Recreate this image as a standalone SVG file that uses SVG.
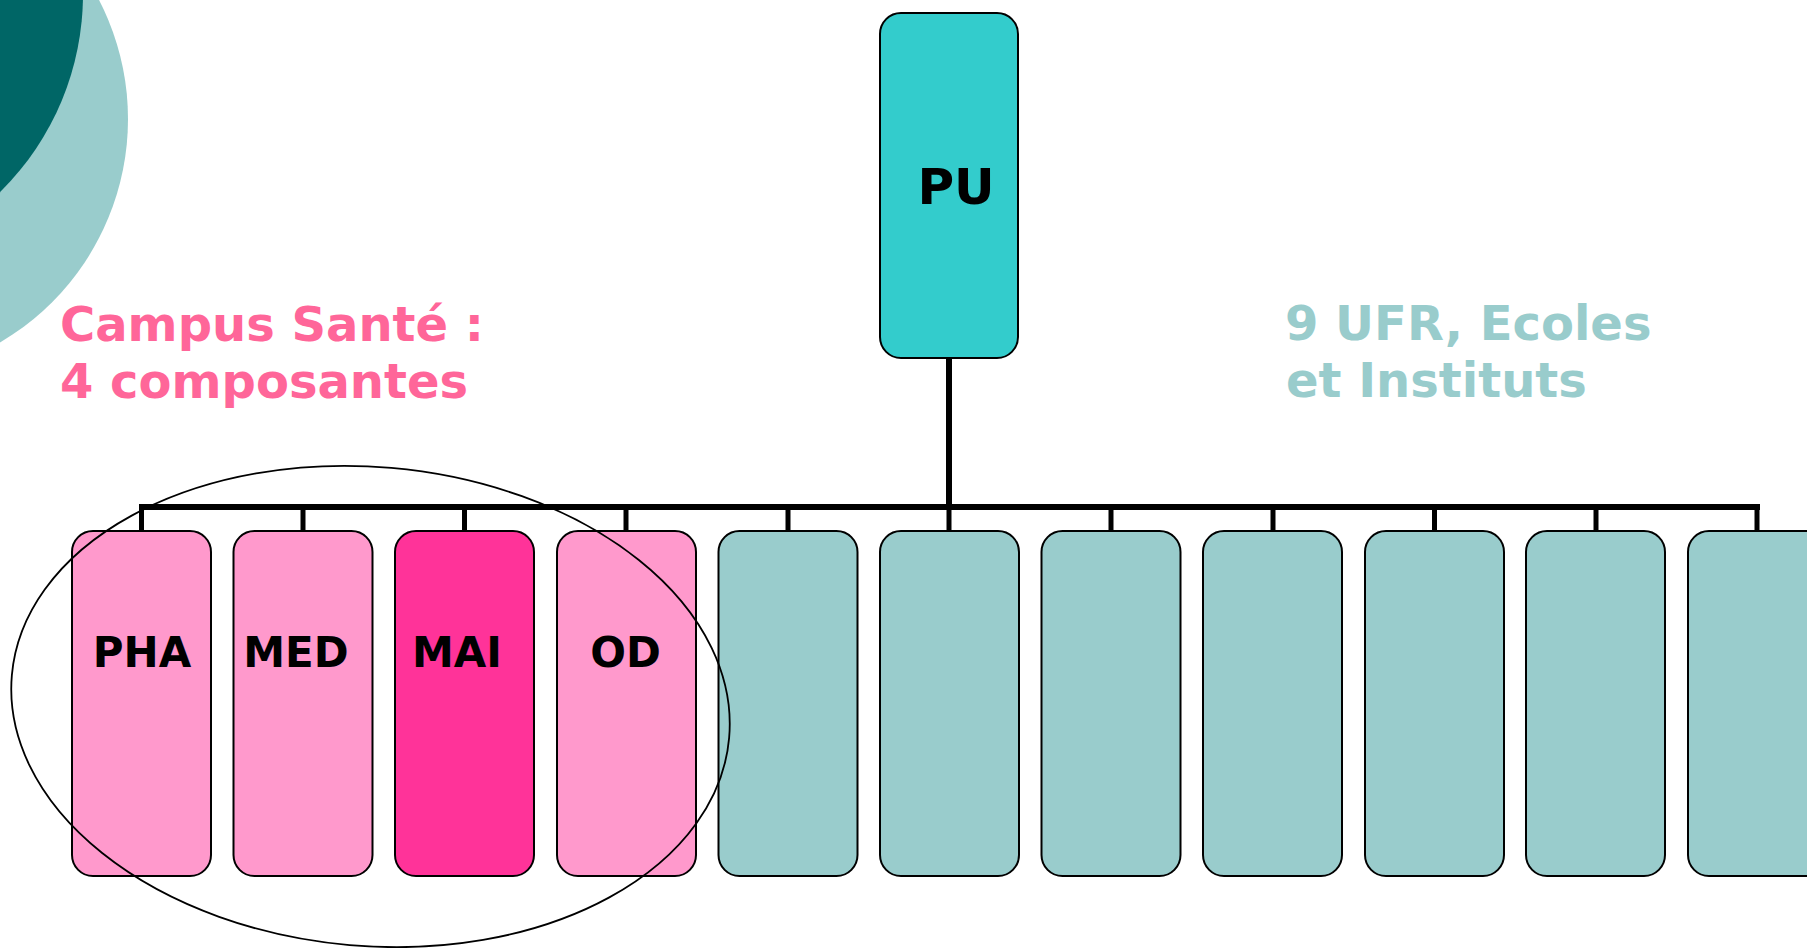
<svg xmlns="http://www.w3.org/2000/svg" width="1807" height="948" viewBox="0 0 1807 948">
<style>
.box{stroke:#000;stroke-width:2}
.pink{fill:#FF99CC}
.hot{fill:#FF3399}
.teal{fill:#99CCCC}
.pu{fill:#33CCCC}
.lbl{font-family:"DejaVu Sans","Verdana",sans-serif;font-weight:bold;font-size:42px;fill:#000;text-anchor:middle}
.title{font-family:"DejaVu Sans","Verdana",sans-serif;font-weight:bold;font-size:48px}
.conn{stroke:#000;stroke-width:6;fill:none}
.tick{stroke:#000;stroke-width:5;fill:none}
</style>
<rect width="1807" height="948" fill="#fff"/>
<g id="decor">
<circle cx="-131" cy="119" r="259" fill="#99CCCC"/>
<circle cx="-195" cy="-6" r="278" fill="#006666"/>
</g>
<text class="title" x="60" y="341" fill="#FF6699">Campus Santé :</text>
<text class="title" x="60" y="398" fill="#FF6699">4 composantes</text>
<text class="title" x="1285" y="340" fill="#99CCCC">9 UFR, Ecoles</text>
<text class="title" x="1286" y="397" fill="#99CCCC">et Instituts</text>
<g id="connectors">
<line class="conn" x1="949" y1="358" x2="949" y2="507"/>
<line class="conn" x1="139" y1="507" x2="1760" y2="507"/>
<line class="tick" x1="141.5" y1="507" x2="141.5" y2="531"/>
<line class="tick" x1="303" y1="507" x2="303" y2="531"/>
<line class="tick" x1="464.5" y1="507" x2="464.5" y2="531"/>
<line class="tick" x1="626" y1="507" x2="626" y2="531"/>
<line class="tick" x1="788" y1="507" x2="788" y2="531"/>
<line class="tick" x1="949" y1="507" x2="949" y2="531"/>
<line class="tick" x1="1111" y1="507" x2="1111" y2="531"/>
<line class="tick" x1="1273" y1="507" x2="1273" y2="531"/>
<line class="tick" x1="1434.5" y1="507" x2="1434.5" y2="531"/>
<line class="tick" x1="1596" y1="507" x2="1596" y2="531"/>
<line class="tick" x1="1757" y1="507" x2="1757" y2="531"/>
</g>
<g id="node-PU">
<rect class="box pu" x="880" y="13" width="138" height="345" rx="21"/>
<text class="lbl" x="956" y="204" style="font-size:50px">PU</text>
</g>
<g id="node-PHA">
<rect class="box pink" x="72" y="531" width="139" height="345" rx="21"/>
<text class="lbl" x="142" y="667">PHA</text>
</g>
<g id="node-MED">
<rect class="box pink" x="233.5" y="531" width="139" height="345" rx="21"/>
<text class="lbl" x="296" y="667">MED</text>
</g>
<g id="node-MAI">
<rect class="box hot" x="395" y="531" width="139" height="345" rx="21"/>
<text class="lbl" x="457" y="667">MAI</text>
</g>
<g id="node-OD">
<rect class="box pink" x="557" y="531" width="139" height="345" rx="21"/>
<text class="lbl" x="625.5" y="667">OD</text>
</g>
<g id="node-u5"><rect class="box teal" x="718.5" y="531" width="139" height="345" rx="21"/></g>
<g id="node-u6"><rect class="box teal" x="880" y="531" width="139" height="345" rx="21"/></g>
<g id="node-u7"><rect class="box teal" x="1041.5" y="531" width="139" height="345" rx="21"/></g>
<g id="node-u8"><rect class="box teal" x="1203" y="531" width="139" height="345" rx="21"/></g>
<g id="node-u9"><rect class="box teal" x="1365" y="531" width="139" height="345" rx="21"/></g>
<g id="node-u10"><rect class="box teal" x="1526" y="531" width="139" height="345" rx="21"/></g>
<g id="node-u11"><rect class="box teal" x="1688" y="531" width="139" height="345" rx="21"/></g>
<g id="campus-ellipse">
<ellipse cx="370.5" cy="706.5" rx="360" ry="239.5" transform="rotate(5 370.5 706.5)" fill="none" stroke="#000" stroke-width="1.8"/>
</g>
</svg>
